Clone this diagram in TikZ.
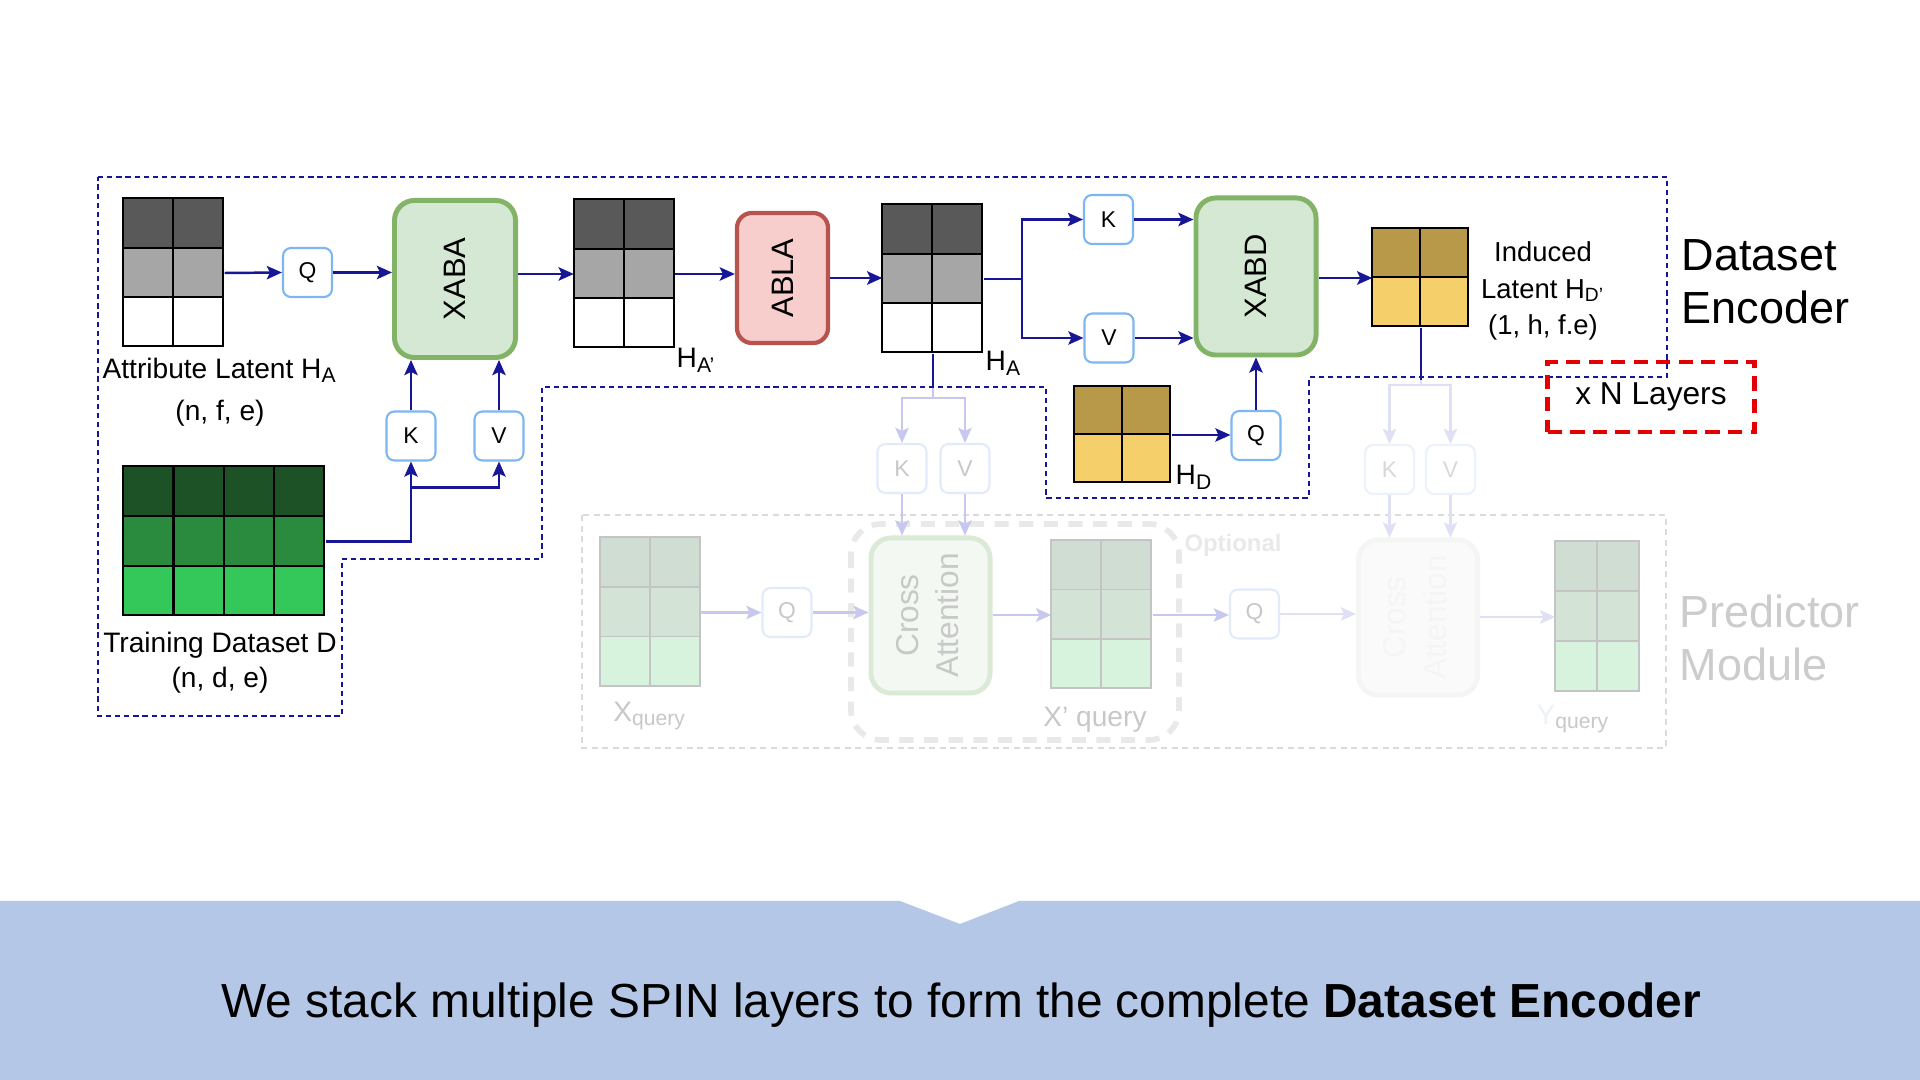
\documentclass[tikz,border=0pt]{standalone}
\usepackage{fontspec}
\setmainfont{Liberation Sans}
\usetikzlibrary{arrows.meta}
\usetikzlibrary{calc}

\definecolor{navyflow}{RGB}{22,22,150}
\definecolor{kqvblue}{RGB}{126,182,240}
\definecolor{xabfill}{RGB}{213,232,212}
\definecolor{xabdraw}{RGB}{130,179,102}
\definecolor{ablafill}{RGB}{248,206,204}
\definecolor{abladraw}{RGB}{184,84,80}
\definecolor{graydark}{RGB}{89,89,89}
\definecolor{graymid}{RGB}{166,166,166}
\definecolor{greendark}{RGB}{28,82,38}
\definecolor{greenmid}{RGB}{42,138,62}
\definecolor{greenlight}{RGB}{52,199,89}
\definecolor{golddark}{RGB}{184,153,74}
\definecolor{goldlight}{RGB}{245,208,106}
\definecolor{bannerblue}{RGB}{180,199,231}
\definecolor{layerred}{RGB}{228,0,0}
\definecolor{fadedflow}{RGB}{200,200,238}
\definecolor{fadedbox}{RGB}{226,235,250}
\definecolor{fadedtext}{RGB}{200,200,200}
\definecolor{fadedgrid}{RGB}{196,196,196}
\definecolor{fadedgreen}{RGB}{218,234,214}
\definecolor{fadedgreenfill}{RGB}{243,248,242}
\definecolor{fadedtop}{RGB}{208,221,211}
\definecolor{fadedmid}{RGB}{211,228,214}
\definecolor{fadedbot}{RGB}{215,242,221}
\definecolor{ghostflow}{RGB}{224,224,244}
\definecolor{ghostbox}{RGB}{236,241,250}
\definecolor{ghosttext}{RGB}{216,216,216}
\definecolor{ghostgreen}{RGB}{244,246,244}
\definecolor{ghostfill}{RGB}{250,250,250}
\definecolor{optgray}{RGB}{233,233,233}
\definecolor{predgray}{RGB}{204,204,204}

\tikzset{
	lbl/.style = {
		align=center,
		inner sep=0pt,
		font=\fontsize{8}{10}\selectfont
	},
	title_lbl/.style = {
		align=left,
		anchor=west,
		inner sep=0pt,
		font=\fontsize{12.8}{15}\selectfont
	},
	node_kqv/.style = {
		rectangle,
		rounded corners=0.08cm,
		draw=kqvblue,
		fill=white,
		line width=0.6pt,
		minimum size=0.49cm,
		inner sep=0pt,
		font=\fontsize{6.5}{7}\selectfont
	},
	node_kqv_faded/.style = {
		node_kqv,
		draw=fadedbox,
		text=fadedtext
	},
	node_kqv_ghost/.style = {
		node_kqv,
		draw=ghostbox,
		text=ghosttext
	},
	node_attn/.style = {
		rectangle,
		rounded corners=0.2cm,
		draw=xabdraw,
		fill=xabfill,
		line width=1.4pt,
		minimum width=1.21cm,
		minimum height=1.57cm,
		inner sep=0pt,
		font=\fontsize{8.8}{10}\selectfont
	},
	node_abla/.style = {
		node_attn,
		rounded corners=0.15cm,
		draw=abladraw,
		fill=ablafill,
		line width=1.2pt,
		minimum width=0.91cm,
		minimum height=1.30cm
	},
	node_attn_faded/.style = {
		node_attn,
		draw=fadedgreen,
		fill=fadedgreenfill,
		text=fadedtext,
		minimum width=1.19cm,
		minimum height=1.55cm,
		font=\fontsize{9}{11.4}\selectfont
	},
	node_attn_ghost/.style = {
		node_attn_faded,
		draw=ghostgreen,
		fill=ghostfill,
		text=ghostgreen
	},
	grid_box/.style = {
		rectangle,
		inner sep=0pt,
		draw=none
	},
	cell/.style = {-, draw=black, line width=0.6pt},
	cell_faded/.style = {-, draw=fadedgrid, line width=0.5pt},
	flow/.style = {draw=navyflow, line width=0.7pt},
	flow_plain/.style = {flow, -},
	flow_faded/.style = {draw=fadedflow, line width=0.7pt},
	flow_faded_plain/.style = {flow_faded, -},
	flow_ghost/.style = {draw=ghostflow, line width=0.7pt},
	flow_ghost_plain/.style = {flow_ghost, -},
	encoder_border/.style = {
		-,
		draw=navyflow,
		line width=0.55pt,
		dash pattern=on 1.5pt off 1.1pt
	},
	predictor_border/.style = {
		-,
		draw=predgray!70,
		line width=0.55pt,
		dash pattern=on 1.7pt off 1.3pt
	},
	optional_border/.style = {
		-,
		draw=optgray,
		line width=1.6pt,
		rounded corners=0.3cm,
		dash pattern=on 4pt off 3pt
	},
	layers_box/.style = {
		rectangle,
		draw=layerred,
		line width=1.4pt,
		dash pattern=on 4pt off 2.4pt,
		minimum width=2.06cm,
		minimum height=0.70cm,
		font=\fontsize{9}{10}\selectfont
	}
}

\begin{document}
\begin{tikzpicture}[->, >={Stealth[length=4.3pt,width=3.8pt,inset=0.9pt]}, x=0.01cm, y=-0.01cm]
\useasboundingbox (0,0) rectangle (1920,1080);
\fill[white, -] (0,0) rectangle (1920,1080);

% predictor module, faded
\draw[predictor_border] (582,515) rectangle (1666,748);
\draw[optional_border] (851,524) rectangle (1179,740);
\node[grid_box, minimum width=1.00cm, minimum height=1.49cm] (xq) at (650.7,612.5) {};
\node[grid_box, minimum width=1.00cm, minimum height=1.48cm] (xq_prime) at (1102,615) {};
\node[grid_box, minimum width=0.84cm, minimum height=1.50cm] (yq) at (1598,617) {};
\foreach \fillc [count=\r from 0] in {fadedtop,fadedmid,fadedbot}
	\foreach \c in {0,1}
	{
		\draw[cell_faded, fill=\fillc] ($(xq.north west)+(\c*50,\r*49.67)$) rectangle +(50,49.67);
		\draw[cell_faded, fill=\fillc] ($(xq_prime.north west)+(\c*50,\r*49.33)$) rectangle +(50,49.33);
		\draw[cell_faded, fill=\fillc] ($(yq.north west)+(\c*42,\r*50)$) rectangle +(42,50);
	}
\node[node_kqv_faded] (k_f1) at (902,468.5) {K};
\node[node_kqv_faded] (v_f1) at (965,468.5) {V};
\node[node_kqv_faded] (qf_a) at (787,612.5) {Q};
\node[node_attn_faded] (ca_a) at (930.5,615.5) {\rotatebox{90}{\begin{tabular}{@{}c@{}}Cross\\Attention\end{tabular}}};
\node[node_kqv_faded] (qf_b) at (1254.5,614) {Q};
\node[node_kqv_ghost] (k_f2) at (1389.5,469.5) {K};
\node[node_kqv_ghost] (v_f2) at (1450.5,469.5) {V};
\node[node_attn_ghost] (ca_b) at (1418,617.5) {\rotatebox{90}{\begin{tabular}{@{}c@{}}Cross\\Attention\end{tabular}}};
\coordinate (split_f1) at (933,398);
\coordinate (split_f2) at (1421,385);
\draw[flow_faded_plain] (933,387) -- (split_f1);
\draw[flow_faded] (split_f1) -| (k_f1.north);
\draw[flow_faded] (split_f1) -| (v_f1.north);
\draw[flow_faded] (k_f1.south) -- (k_f1.south |- ca_a.north);
\draw[flow_faded] (v_f1.south) -- (v_f1.south |- ca_a.north);
\draw[flow_faded] (xq.east) -- (qf_a.west);
\draw[flow_faded] (qf_a.east) -- (qf_a.east -| ca_a.west);
\draw[flow_faded] (ca_a.east |- xq_prime.west) -- (xq_prime.west);
\draw[flow_faded] (xq_prime.east) -- (xq_prime.east -| qf_b.west);
\draw[flow_ghost] (qf_b.east) -- (qf_b.east -| ca_b.west);
\draw[flow_ghost_plain] (1421,380) -- (split_f2);
\draw[flow_ghost] (split_f2) -| (k_f2.north);
\draw[flow_ghost] (split_f2) -| (v_f2.north);
\draw[flow_ghost] (k_f2.south) -- (k_f2.south |- ca_b.north);
\draw[flow_ghost] (v_f2.south) -- (v_f2.south |- ca_b.north);
\draw[flow_ghost] (ca_b.east |- yq.west) -- (yq.west);
\node[lbl, text=fadedtext] (lbl_xq) at (650,716) {X\textsubscript{query}};
\node[lbl, text=fadedtext] (lbl_xq_prime) at (1095,720) {X' query};
\node[lbl, text=fadedtext, anchor=west] (lbl_yq) at (1536,719) {\textcolor{ghostbox}{Y}\textsubscript{query}};
\node[lbl, text=optgray, font=\bfseries\fontsize{6.8}{8}\selectfont] (lbl_optional) at (1233,545) {Optional};
\node[title_lbl, text=predgray] (lbl_predictor) at (1679,638) {Predictor\\Module};

% dataset encoder
\draw[encoder_border] (98,177) -- (1667,177) -- (1667,377) -- (1309,377) -- (1309,498) -- (1046,498) -- (1046,387) -- (542,387) -- (542,559) -- (342,559) -- (342,716) -- (98,716) -- cycle;
\node[grid_box, minimum width=1.00cm, minimum height=1.48cm] (ha_in) at (174,273) {};
\node[grid_box, minimum width=1.00cm, minimum height=1.48cm] (ha_mid) at (624.5,274) {};
\node[grid_box, minimum width=1.00cm, minimum height=1.48cm] (ha_out) at (933,279) {};
\node[grid_box, minimum width=2.01cm, minimum height=1.49cm] (d_in) at (224.5,541.5) {};
\node[grid_box, minimum width=0.96cm, minimum height=0.96cm] (hd_in) at (1123,435) {};
\node[grid_box, minimum width=0.96cm, minimum height=0.98cm] (hd_out) at (1421,278) {};
\foreach \fillc [count=\r from 0] in {graydark,graymid,white}
	\foreach \c in {0,1}
	{
		\draw[cell, fill=\fillc] ($(ha_in.north west)+(\c*50,\r*49.33)$) rectangle +(50,49.33);
		\draw[cell, fill=\fillc] ($(ha_mid.north west)+(\c*50,\r*49.33)$) rectangle +(50,49.33);
		\draw[cell, fill=\fillc] ($(ha_out.north west)+(\c*50,\r*49.33)$) rectangle +(50,49.33);
	}
\foreach \fillc [count=\r from 0] in {greendark,greenmid,greenlight}
	\foreach \c in {0,...,3}
		\draw[cell, fill=\fillc] ($(d_in.north west)+(\c*50.25,\r*49.67)$) rectangle +(50.25,49.67);
\foreach \fillc [count=\r from 0] in {golddark,goldlight}
	\foreach \c in {0,1}
	{
		\draw[cell, fill=\fillc] ($(hd_in.north west)+(\c*48,\r*48)$) rectangle +(48,48);
		\draw[cell, fill=\fillc] ($(hd_out.north west)+(\c*48,\r*49)$) rectangle +(48,49);
	}
\node[node_kqv] (q_a) at (307.5,272.5) {Q};
\node[node_attn] (xaba) at (455,279) {\rotatebox{90}{XABA}};
\node[node_kqv] (k_a) at (411,436) {K};
\node[node_kqv] (v_a) at (499,436) {V};
\node[node_abla] (abla) at (782.5,278) {\rotatebox{90}{ABLA}};
\node[node_kqv] (k_d) at (1108.5,219.5) {K};
\node[node_kqv] (v_d) at (1109,338) {V};
\node[node_attn, minimum width=1.20cm] (xabd) at (1256,276.5) {\rotatebox{90}{XABD}};
\node[node_kqv] (q_d) at (1256,435.5) {Q};
\coordinate (split_d) at ($(k_a.south)+(0,26)$);
\coordinate (split_ha) at (1022,279);

\draw[flow] (ha_in.east) -- (q_a.west);
\draw[flow] (q_a.east) -- (q_a.east -| xaba.west);
\draw[flow] (d_in.east) -| (k_a.south);
\draw[flow] (split_d) -| (v_a.south);
\draw[flow] (k_a.north) -- (k_a.north |- xaba.south);
\draw[flow] (v_a.north) -- (v_a.north |- xaba.south);
\draw[flow] (ha_mid.west -| xaba.east) -- (ha_mid.west);
\draw[flow] (ha_mid.east) -- (ha_mid.east -| abla.west);
\draw[flow] (abla.east) -- (abla.east -| ha_out.west);
\draw[flow_plain] (ha_out.east) -- (split_ha);
\draw[flow] (split_ha) |- (k_d.west);
\draw[flow] (split_ha) |- (v_d.west);
\draw[flow] (k_d.east) -- (k_d.east -| xabd.west);
\draw[flow] (v_d.east) -- (v_d.east -| xabd.west);
\draw[flow] (hd_in.east) -- (hd_in.east -| q_d.west);
\draw[flow] (q_d.north) -- (q_d.north |- xabd.south);
\draw[flow] (xabd.east |- hd_out.west) -- (hd_out.west);
\draw[flow_plain] (ha_out.south) -- (ha_out.south |- 0,387);
\draw[flow_plain] (hd_out.south) -- (hd_out.south |- 0,380);

\node[lbl] (lbl_ha) at (220,392) {Attribute Latent H\textsubscript{A}\\[2pt](n, f, e)};
\node[lbl] (lbl_d) at (220,663) {Training Dataset D\\(n, d, e)};
\node[lbl, anchor=west] (lbl_ha_mid) at (676,360) {H\textsubscript{A'}};
\node[lbl, anchor=west] (lbl_ha_out) at (985,363) {H\textsubscript{A}};
\node[lbl, anchor=west] (lbl_hd_in) at (1175,477) {H\textsubscript{D}};
\node[lbl, font=\fontsize{7.8}{10.4}\selectfont] (lbl_hd_out) at (1543,291) {Induced\\Latent H\textsubscript{D'}\\(1, h, f.e)};
\node[title_lbl] (lbl_encoder) at (1681,282) {Dataset\\Encoder};
\node[layers_box] (n_layers) at (1651,397) {x N Layers};

% caption banner
\fill[bannerblue, -] (0,901) -- (900,901) -- (960,924) -- (1019,901) -- (1920,901) -- (1920,1080) -- (0,1080) -- cycle;
\node[inner sep=0pt, font=\fontsize{13.6}{16}\selectfont] (caption) at (961,1005) {We stack multiple SPIN layers to form the complete \textbf{Dataset Encoder}};
\end{tikzpicture}
\end{document}
